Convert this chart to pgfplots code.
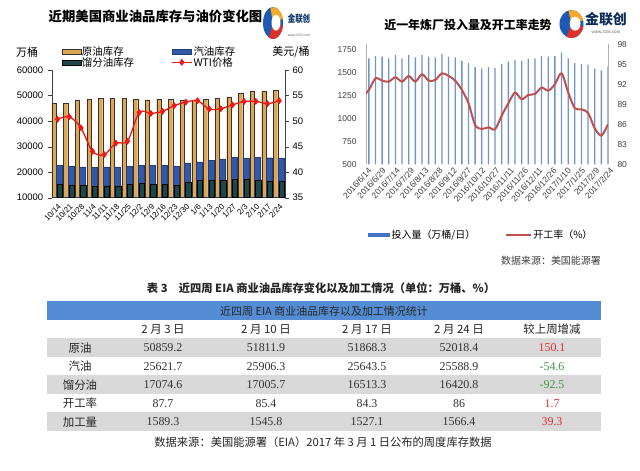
\documentclass[border=0pt]{standalone}
\usepackage{fontspec}
\setmainfont{Liberation Sans}
\newfontfamily\cjk{Noto Sans CJK SC}
\newfontfamily\numf{Liberation Serif}
\usepackage{pgfplots}
\pgfplotsset{compat=1.18}
\definecolor{crude}{RGB}{224,165,80}
\definecolor{gaso}{RGB}{52,88,168}
\definecolor{dist}{RGB}{28,72,72}
\definecolor{wti}{RGB}{235,25,25}
\definecolor{rbar}{RGB}{115,148,200}
\definecolor{rleg}{RGB}{68,114,196}
\definecolor{rline}{RGB}{192,80,77}
\definecolor{tblue}{RGB}{84,141,212}
\definecolor{tgrey}{RGB}{217,217,217}
\definecolor{tred}{RGB}{230,45,45}
\definecolor{tgreen}{RGB}{70,150,70}
\definecolor{lgblue}{RGB}{30,90,180}
\definecolor{lgorange}{RGB}{245,170,40}
\definecolor{lgred}{RGB}{220,50,45}
\pgfplotsset{
  barleg/.style={legend image code/.code={\draw[##1] (0bp,-2.5bp) rectangle (19bp,2.5bp);}},
  lineleg/.style={legend image code/.code={\draw[mark repeat=2,mark phase=2,##1] plot coordinates {(0bp,0bp) (10bp,0bp) (20bp,0bp)};}},
  rbarleg/.style={legend image code/.code={\fill[rleg] (0bp,-2.2bp) rectangle (22bp,2.2bp);}},
  rlineleg/.style={legend image code/.code={\draw[##1] (0bp,0bp) -- (25bp,0bp);}},
}
\newcommand{\logo}[4]{% cx cy rx ry
  \begin{scope}[shift={(#1,#2)},xscale=#3,yscale=#4]
  \fill[lgblue] (0,0) circle (1);
  \fill[lgorange] (0,0) -- (15:1) arc (15:105:1) -- cycle;
  \fill[lgred] (0,0) -- (-115:1) arc (-115:-10:1) -- cycle;
  \fill[white] (0.3,0.02) ellipse (0.45 and 0.5);
  \end{scope}}
\begin{document}
\begin{tikzpicture}[x=1bp,y=1bp]
\path[use as bounding box,fill=white] (0,0) rectangle (640,471);

% ================= LEFT CHART =================
\node[font=\cjk\bfseries\fontsize{13.4}{14}\selectfont] at (155.5,454.3) {近期美国商业油品库存与油价变化图};
\logo{273}{448}{10}{16}
\node[font=\cjk\bfseries\fontsize{10}{10}\selectfont,text=lgblue!60!black,xscale=0.75] at (299,452) {金联创};
\node[font=\fontsize{3.5}{4}\selectfont,text=black!60] at (299,436) {www.315i.com};
\node[font=\cjk\fontsize{11}{11}\selectfont] at (27,419) {万桶};
\node[font=\cjk\fontsize{11}{11}\selectfont] at (291,419) {美元/桶};

\begin{axis}[
  at={(51.7bp,273.3bp)}, anchor=south west, scale only axis,
  width=233.3bp, height=127.7bp,
  xmin=-0.5, xmax=19.5, ymin=10000, ymax=60000,
  axis y line*=left, axis x line*=bottom,
  axis line style={black!75},
  ytick={10000,20000,...,60000},
  scaled y ticks=false,
  tick align=outside, major tick length=4bp,
  ytick style={black!75},
  xtick={0,...,19}, xtick style={draw=none},
  xticklabels={10/14,10/21,10/28,11/4,11/11,11/18,11/25,12/2,12/9,12/16,12/23,12/30,1/6,1/13,1/20,1/27,2/3,2/10,2/17,2/24},
  x tick label style={rotate=45, anchor=north east, font=\fontsize{8}{8}\selectfont, inner sep=1bp},
  y tick label style={font=\fontsize{9.5}{10}\selectfont, /pgf/number format/1000 sep={}, xshift=-1bp},
  /pgf/number format/assume math mode=true,
  legend columns=2,
  legend cell align=left,
  legend style={draw=none, fill=none, inner sep=0pt, outer sep=0pt,
    at={(0.042,1.102)}, anchor=west,
    font=\cjk\fontsize{10.5}{10.5}\selectfont,
    nodes={inner sep=1bp}, row sep=-1.5bp,
    /tikz/every even column/.append style={column sep=36bp}},
]
\addplot[fill=crude, draw=black!80, line width=0.4bp, ybar, bar width=0.37, bar shift=-0.31, barleg]
  coordinates {(0,46870) (1,46820) (2,48260) (3,48500) (4,49030) (5,48900) (6,48810) (7,48580) (8,48320) (9,48550) (10,48610) (11,48100) (12,48310) (13,48550) (14,48830) (15,49480) (16,50859.2) (17,51811.9) (18,51868.3) (19,52018.4)};
\addlegendentry{原油库存}
\addplot[fill=gaso, draw=gaso!70!black, line width=0.3bp, ybar, bar width=0.52, bar shift=0.14, barleg]
  coordinates {(0,22700) (1,22500) (2,22100) (3,21800) (4,22100) (5,22100) (6,22400) (7,22700) (8,22700) (9,22700) (10,22400) (11,23600) (12,24000) (13,24600) (14,25200) (15,25700) (16,25621.7) (17,25906.3) (18,25643.5) (19,25588.9)};
\addlegendentry{汽油库存}
\addplot[fill=dist, draw=black, line width=0.4bp, ybar, bar width=0.45, bar shift=0.21, barleg]
  coordinates {(0,15400) (1,15000) (2,15000) (3,14600) (4,14600) (5,14600) (6,15200) (7,15700) (8,15200) (9,15200) (10,14900) (11,16100) (12,16700) (13,16700) (14,16800) (15,17200) (16,17074.6) (17,17005.7) (18,16513.3) (19,16420.8)};
\addlegendentry{馏分油库存}
\addlegendimage{wti, line width=1.3bp, mark=diamond*, mark size=2.5bp, lineleg}
\addlegendentry{WTI价格}
\end{axis}

\begin{axis}[
  at={(51.7bp,273.3bp)}, anchor=south west, scale only axis,
  width=233.3bp, height=127.7bp,
  xmin=-0.5, xmax=19.5, ymin=35, ymax=60,
  axis y line*=right, axis x line=none,
  axis line style={black!75},
  ytick={35,40,...,60},
  tick align=outside, major tick length=4bp,
  ytick style={black!75},
  y tick label style={font=\fontsize{9.5}{10}\selectfont},
  /pgf/number format/assume math mode=true,
]
\addplot[wti, line width=1.3bp, smooth, tension=0.5, mark=diamond*, mark size=2.5bp,
  mark options={fill=wti, draw=wti}]
  coordinates {(0,50.35) (1,50.85) (2,48.7) (3,44.07) (4,43.41) (5,45.69) (6,46.06) (7,51.68) (8,51.5) (9,51.9) (10,53.02) (11,53.72) (12,53.99) (13,52.37) (14,52.42) (15,53.17) (16,53.83) (17,53.86) (18,53.4) (19,53.99)};
\end{axis}

% ================= RIGHT CHART =================
\node[font=\cjk\bfseries\fontsize{12}{12}\selectfont] at (468,446) {近一年炼厂投入量及开工率走势};
\logo{571.5}{447}{12}{14}
\node[font=\cjk\bfseries\fontsize{14}{14}\selectfont,text=lgblue!50!black] at (606,451.5) {金联创};
\node[font=\fontsize{4.5}{5}\selectfont,text=black!60] at (606,439) {www.315i.com};

\begin{axis}[
  at={(366bp,306.7bp)}, anchor=south west, scale only axis,
  width=242bp, height=120bp,
  xmin=0, xmax=255, ymin=500, ymax=1812,
  axis y line*=left, axis x line*=bottom,
  y axis line style={black!30},
  x axis line style={draw=none},
  ytick={500,750,...,1750},
  major tick length=0pt,
  xtick style={draw=none}, ytick style={draw=none},
  xtick={0,15,...,255},
  xticklabels={2016/6/14,2016/6/29,2016/7/14,2016/7/29,2016/8/13,2016/8/28,2016/9/12,2016/9/27,2016/10/12,2016/10/27,2016/11/11,2016/11/26,2016/12/11,2016/12/26,2017/1/10,2017/1/25,2017/2/9,2017/2/24},
  x tick label style={rotate=48, anchor=north east, font=\fontsize{8.5}{8.5}\selectfont, text=black!75, inner sep=1bp, yshift=-2bp},
  y tick label style={font=\fontsize{8.5}{9}\selectfont, text=black!75, xshift=-6bp},
  /pgf/number format/assume math mode=true,
  /pgf/number format/1000 sep={},
  legend columns=2,
  legend style={draw=none, fill=none, inner sep=0pt,
    at={(0.008,-0.589)}, anchor=west,
    font=\cjk\fontsize{10}{10}\selectfont,
    nodes={inner sep=1.5bp},
    /tikz/every even column/.append style={column sep=28bp}},
]
\addplot[ybar, bar width=1.3bp, fill=rbar, draw=none, rbarleg]
  coordinates {(3,1659) (10,1684) (17,1677) (24,1659) (31,1695) (38,1659) (45,1695) (52,1670) (59,1695) (66,1677) (73,1670) (80,1706) (87,1677) (94,1670) (101,1633) (108,1605) (115,1561) (122,1545) (129,1561) (136,1553) (143,1597) (150,1622) (157,1641) (164,1633) (171,1652) (178,1659) (185,1684) (192,1677) (199,1684) (206,1720) (213,1659) (220,1605) (227,1597) (234,1589.3) (241,1545.8) (248,1527.1) (255,1566.4)};
\addlegendentry{投入量（万桶/日）}
\addlegendimage{rline, line width=2.2bp, rlineleg}
\addlegendentry{开工率（\%）}
\end{axis}

\begin{axis}[
  at={(366bp,306.7bp)}, anchor=south west, scale only axis,
  width=242bp, height=120bp,
  xmin=0, xmax=255, ymin=80, ymax=98,
  axis y line*=right, axis x line=none,
  axis line style={black!30},
  ytick={80,83,...,98},
  major tick length=0pt,
  y tick label style={font=\fontsize{8.5}{9}\selectfont, text=black!75, xshift=6bp},
  /pgf/number format/assume math mode=true,
]
\addplot[rline, line width=2bp, smooth, tension=0.5]
  coordinates {(-4,90.1) (3,91.15) (10,92.9) (17,92.55) (24,92.4) (31,93.05) (38,92.4) (45,93.25) (52,92.4) (59,93.5) (66,92.55) (73,92.65) (80,93.65) (87,93.25) (94,92.55) (101,91.15) (108,89.15) (115,85.9) (122,85.3) (129,85.55) (136,85.25) (143,87.3) (150,89.15) (157,90.75) (164,89.75) (171,90.4) (178,90.55) (185,91.5) (192,91.05) (199,92.0) (206,93.65) (213,90.8) (220,88.4) (227,88.25) (234,87.7) (241,85.4) (248,84.3) (255,86.0)};
\end{axis}

\node[font=\cjk\fontsize{10}{10}\selectfont,text=black!75] at (551,210) {数据来源：美国能源署};

% ================= TABLE =================
\node[font=\cjk\bfseries\fontsize{11.3}{12}\selectfont,text=black!85] at (321,183) {表 3\quad 近四周 EIA 商业油品库存变化以及加工情况（单位：万桶、\%）};
\fill[tblue] (47,471-320) rectangle (601,471-301.5);
\node[font=\cjk\fontsize{11}{11}\selectfont,text=black!85] at (324,471-311) {近四周 EIA 商业油品库存以及加工情况统计};
\fill[tgrey] (47,471-357) rectangle (601,471-338.5);
\fill[tgrey] (47,471-394) rectangle (601,471-375.5);
\fill[tgrey] (47,471-431) rectangle (601,471-412.5);
\begin{scope}[every node/.style={font=\cjk\fontsize{11.5}{12}\selectfont,text=black!85}]
\node at (163,471-329.5) {2 月 3 日};
\node at (266,471-329.5) {2 月 10 日};
\node at (367,471-329.5) {2 月 17 日};
\node at (459,471-329.5) {2 月 24 日};
\node at (552,471-329.5) {较上周增减};
\node at (80,471-348) {原油};
\node at (80,471-366.5) {汽油};
\node at (80,471-385) {馏分油};
\node at (80,471-403.5) {开工率};
\node at (80,471-422) {加工量};
\end{scope}
\begin{scope}[every node/.style={font=\numf\fontsize{12}{12}\selectfont,text=black!80}]
\node at (163,471-348) {50859.2};
\node at (266,471-348) {51811.9};
\node at (367,471-348) {51868.3};
\node at (459,471-348) {52018.4};
\node[text=tred] at (552,471-348) {150.1};
\node at (163,471-366.5) {25621.7};
\node at (266,471-366.5) {25906.3};
\node at (367,471-366.5) {25643.5};
\node at (459,471-366.5) {25588.9};
\node[text=tgreen] at (552,471-366.5) {-54.6};
\node at (163,471-385) {17074.6};
\node at (266,471-385) {17005.7};
\node at (367,471-385) {16513.3};
\node at (459,471-385) {16420.8};
\node[text=tgreen] at (552,471-385) {-92.5};
\node at (163,471-403.5) {87.7};
\node at (266,471-403.5) {85.4};
\node at (367,471-403.5) {84.3};
\node at (459,471-403.5) {86};
\node[text=tred] at (552,471-403.5) {1.7};
\node at (163,471-422) {1589.3};
\node at (266,471-422) {1545.8};
\node at (367,471-422) {1527.1};
\node at (459,471-422) {1566.4};
\node[text=tred] at (552,471-422) {39.3};
\end{scope}
\node[font=\cjk\fontsize{11.3}{12}\selectfont,text=black!85] at (323,471-442) {数据来源：美国能源署（EIA）2017 年 3 月 1 日公布的周度库存数据};
\end{tikzpicture}
\end{document}
